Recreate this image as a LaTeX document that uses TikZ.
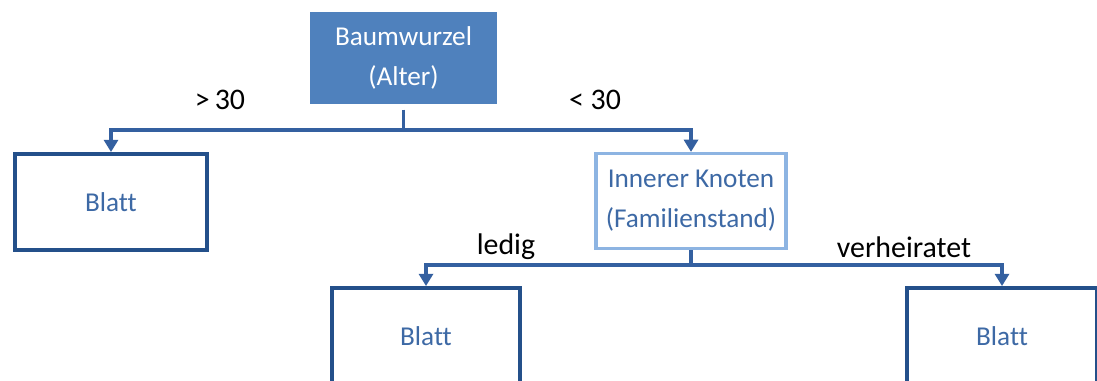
\documentclass[tikz,border=0pt]{standalone}
\usepackage{fontspec}
\setmainfont[Ligatures=NoCommon]{Carlito}
\usetikzlibrary{arrows.meta,positioning}
\definecolor{rootFill}{HTML}{4F81BD}
\definecolor{leafLine}{HTML}{24508A}
\definecolor{innerLine}{HTML}{8DB4E2}
\definecolor{linkBlue}{HTML}{3460A0}
\definecolor{boxText}{HTML}{3D69A5}

\begin{document}
\begin{tikzpicture}[x=0.02cm,y=-0.02cm,
    every node/.style={font=\fontsize{15.5}{22.7}\selectfont},
    rootbox/.style={fill=rootFill,text=white,minimum width=3.74cm,minimum height=1.84cm,align=center},
    leafbox/.style={draw=leafLine,line width=2.2pt,text=boxText,minimum width=3.84cm,minimum height=1.92cm},
    innerbox/.style={draw=innerLine,line width=1.8pt,text=boxText,minimum width=3.8cm,minimum height=1.9cm,align=center},
    link/.style={draw=linkBlue,line width=2pt},
    arrow/.style={link,-{Triangle[width=8pt,length=7pt]}},
    cond/.style={text=black,font=\fontsize{17}{20}\selectfont}]
  \clip (0,0) rectangle (1097,381);
  % boxes
  \node[rootbox] (root) at (403.5,58) {Baumwurzel\\(Alter)};
  \node[leafbox] (leafA) at (111,202) {Blatt};
  \node[innerbox] (inner) at (691,201) {Innerer Knoten\\(Familienstand)};
  \node[leafbox,minimum width=3.76cm] (leafB) at (426,336) {Blatt};
  \node[leafbox,minimum width=3.8cm] (leafC) at (1002,336) {Blatt};
  % forks
  \coordinate (forkA) at (403.5,130);
  \coordinate (forkB) at (691,265);
  \draw[link,shorten <=3pt] (root.south) -- (forkA);
  \draw[arrow] (forkA) -| (leafA.north);
  \draw[arrow] (forkA) -| (inner.north);
  \draw[link] (inner.south) -- (forkB);
  \draw[arrow] (forkB) -| (leafB.north);
  \draw[arrow] (forkB) -| (leafC.north);
  % conditions
  \node[cond] (gt) at (220,100) {>\,30};
  \node[cond] (lt) at (595,100) {< 30};
  \node[cond] (ledig) at (506,247) {ledig};
  \node[cond] (verh) at (904,247) {verheiratet};
\end{tikzpicture}
\end{document}
